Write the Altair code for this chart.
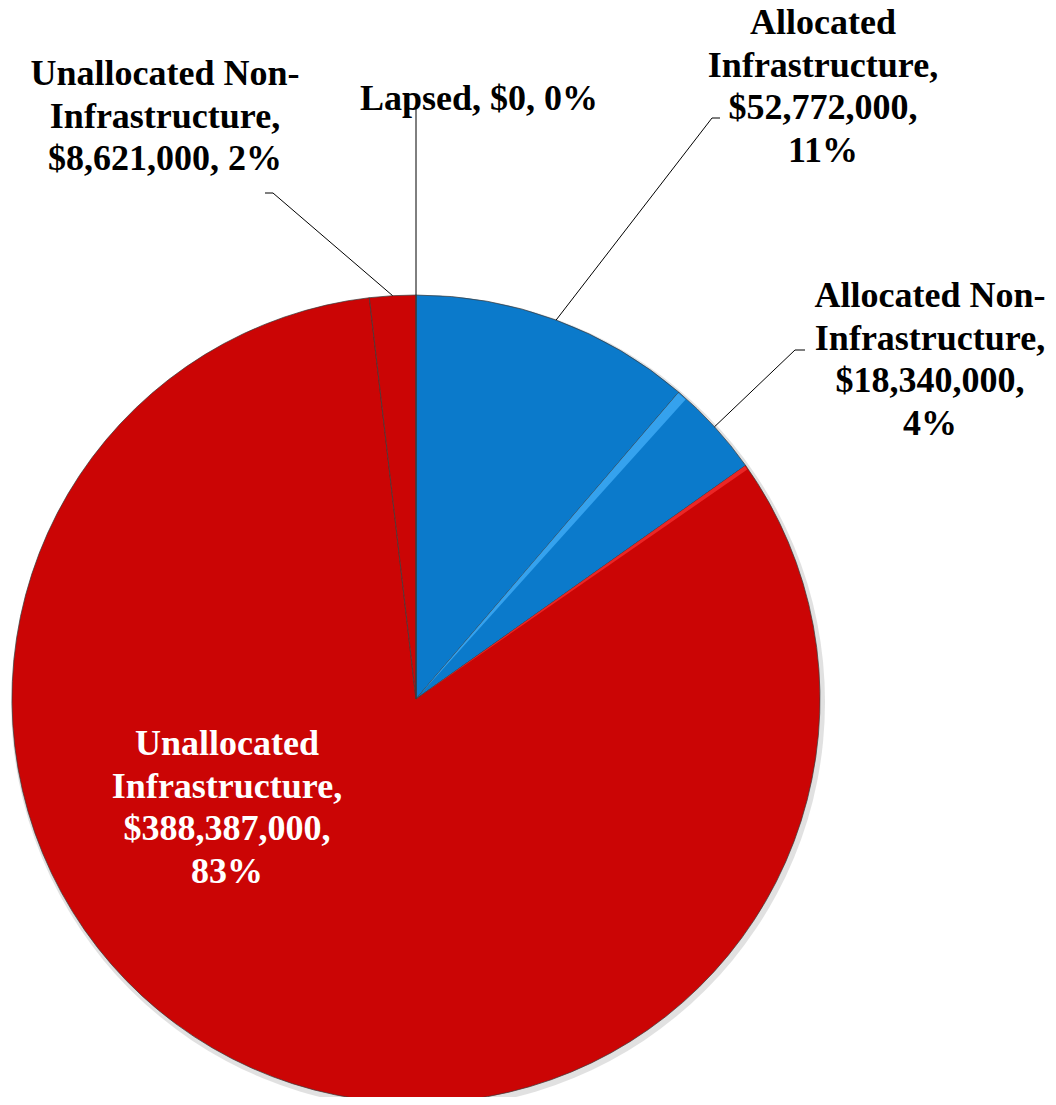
import math
import altair as alt
import pandas as pd

# ---- data ----
categories = [
    "Allocated Infrastructure",
    "Allocated Non-Infrastructure",
    "Unallocated Infrastructure",
    "Unallocated Non-Infrastructure",
    "Lapsed",
]
values = [52772000, 18340000, 388387000, 8621000, 0]
name_lines = [
    ["Allocated", "Infrastructure"],
    ["Allocated Non-", "Infrastructure"],
    ["Unallocated", "Infrastructure"],
    ["Unallocated Non-", "Infrastructure"],
    ["Lapsed"],
]
value_pct_same_line = [False, False, False, True, True]
slice_colors = ["#0B7ACB", "#0B7ACB", "#CB0505", "#CB0505", "#CB0505"]
# bevel highlight along the start edge of some slices (degrees, colour)
bevel_deg = [0.0, 1.4, 0.6, 0.0, 0.0]
bevel_colors = ["#3AA6F2", "#3AA6F2", "#EE2A2A", "#EE2A2A", "#EE2A2A"]

# ---- layout (page pixels) ----
W, H = 1040, 1089
CX, CY, R = 416, 699, 404
label_pos = [(823, 34), (930, 307), (227, 755), (165, 85), (479, 110)]
label_color = ["black", "black", "white", "black", "black"]
# leader: elbow point and end point (None = no leader)
leader = [
    ((712, 118), (720, 118)),
    ((795, 350), (805, 350)),
    None,
    ((273, 193), (265, 193)),
    ((416, 108), (416, 108)),
]

total = sum(values)
pcts = [round(v / total * 100) for v in values]


def make_label(i):
    names = list(name_lines[i])
    money = f"${values[i]:,}"
    if value_pct_same_line[i]:
        tail = [f"{money}, {pcts[i]}%"]
    else:
        tail = [f"{money},", f"{pcts[i]}%"]
    if len(names) == 1:
        return f"{names[0]}, {tail[0]}"
    names[-1] = names[-1] + ","
    return "\n".join(names + tail)


starts = []
cum = 0
for v in values:
    starts.append(cum)
    cum += v

pie_df = pd.DataFrame({
    "category": categories,
    "value": values,
    "idx": list(range(len(categories))),
})

bev_rows = []
for i in range(len(categories)):
    if bevel_deg[i] > 0 and values[i] > 0:
        bev_rows.append({
            "category": categories[i],
            "t0": starts[i],
            "t1": starts[i] + total * bevel_deg[i] / 360.0,
        })
bev_df = pd.DataFrame(bev_rows)

lab_df = pd.DataFrame({
    "label": [make_label(i) for i in range(len(categories))],
    "x": [p[0] for p in label_pos],
    "y": [p[1] for p in label_pos],
    "color": label_color,
})

# leader segments from slice mid-angle on rim
segs = []
for i, v in enumerate(values):
    mid = (starts[i] + v / 2) / total * 2 * math.pi
    if leader[i] is None:
        continue
    sx = CX + R * math.sin(mid)
    sy = CY - R * math.cos(mid)
    pts = [(sx, sy), leader[i][0], leader[i][1]]
    for a, b in zip(pts[:-1], pts[1:]):
        if a != b:
            segs.append({"x": a[0], "y": a[1], "x2": b[0], "y2": b[1]})
seg_df = pd.DataFrame(segs)

xs = alt.Scale(domain=[8, 8 + W], range=[0, W])
ys = alt.Scale(domain=[8, 8 + H], range=[0, H])
ts = alt.Scale(domain=[0, total], range=[0, 2 * math.pi], zero=True, nice=False)

shadow = alt.Chart(pd.DataFrame({"v": [1]})).mark_arc(
    radius=R + 3, color="#d9d9d9", opacity=0.8
).encode(
    theta=alt.Theta("v:Q"),
    x=alt.value(CX - 8 + 2),
    y=alt.value(CY - 8 + 3),
)

pie = alt.Chart(pie_df).mark_arc(
    radius=R, stroke="#3c3c3c", strokeWidth=0.9, strokeOpacity=0.8
).encode(
    theta=alt.Theta("value:Q", stack=True, scale=ts),
    order=alt.Order("idx:Q"),
    color=alt.Color(
        "category:N",
        scale=alt.Scale(domain=categories, range=slice_colors),
        legend=None,
    ),
    x=alt.value(CX - 8),
    y=alt.value(CY - 8),
)

bevel = alt.Chart(bev_df).mark_arc(radius=R - 1, opacity=0.9).encode(
    theta=alt.Theta("t0:Q", scale=ts, stack=None),
    theta2="t1:Q",
    color=alt.Color(
        "category:N",
        scale=alt.Scale(domain=categories, range=bevel_colors),
        legend=None,
    ),
    x=alt.value(CX - 8),
    y=alt.value(CY - 8),
)

lines = alt.Chart(seg_df).mark_rule(color="black", strokeWidth=1).encode(
    x=alt.X("x:Q", scale=xs, axis=None),
    y=alt.Y("y:Q", scale=ys, axis=None),
    x2="x2:Q",
    y2="y2:Q",
)

labels = alt.Chart(lab_df).mark_text(
    font="Liberation Serif",
    fontWeight="bold",
    fontSize=36,
    lineBreak="\n",
    lineHeight=42.5,
    align="center",
    baseline="alphabetic",
).encode(
    x=alt.X("x:Q", scale=xs, axis=None),
    y=alt.Y("y:Q", scale=ys, axis=None),
    text="label:N",
    color=alt.Color("color:N", scale=None),
)

chart = alt.layer(shadow, pie, bevel, lines, labels).resolve_scale(
    color="independent", theta="independent"
).properties(
    width=W,
    height=H,
    autosize=alt.AutoSizeParams(type="none"),
    padding=0,
).configure_view(stroke=None)

chart.save("out.html", embed_options={"renderer": "svg", "actions": False})
